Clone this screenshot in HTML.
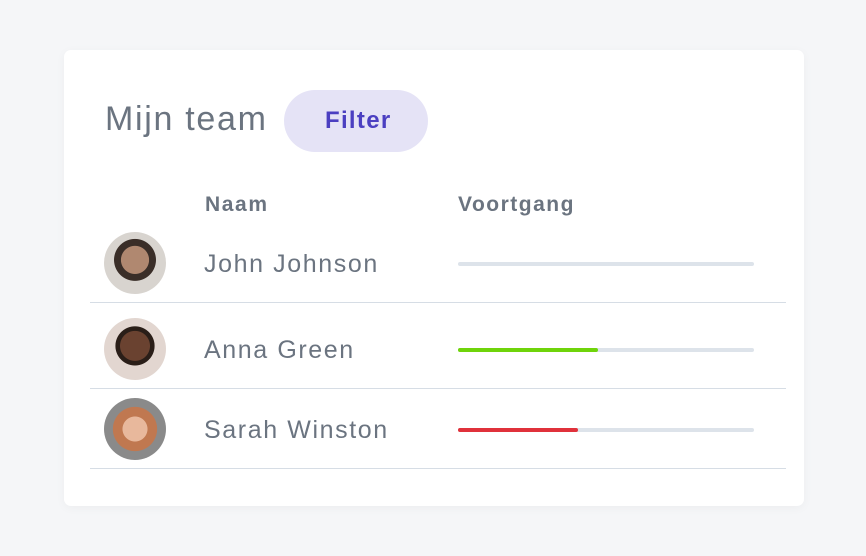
<!DOCTYPE html>
<html><head><meta charset="utf-8"><style>
body{margin:0;width:866px;height:556px;background:#f5f6f8;font-family:"Liberation Sans",sans-serif;position:relative;overflow:hidden}
.card{position:absolute;left:64px;top:50px;width:740px;height:456px;background:#fff;border-radius:7px;box-shadow:0 2px 10px rgba(0,0,0,0.04)}
.t{position:absolute;color:#6b7480;white-space:nowrap}
.av{position:absolute;left:104px;width:62px;height:62px;border-radius:50%}
.bar{position:absolute;left:458px;width:296px;height:4px;background:#dde3ea;border-radius:2px}
.line{position:absolute;left:90px;width:696px;height:1px;background:#d6dde5}
</style></head><body>
<div class="card"></div>
<div class="t" style="left:105px;top:100px;font-size:34px;letter-spacing:1.7px">Mijn team</div>
<div style="position:absolute;left:284px;top:90px;width:144px;height:62px;border-radius:31px;background:#e5e3f6"></div>
<div style="position:absolute;left:325px;top:90px;height:62px;color:#4b3fc1;font-weight:bold;font-size:24px;line-height:62px;letter-spacing:1.3px">Filter</div>
<div class="t" style="left:205px;top:193px;font-size:21px;font-weight:bold;letter-spacing:1.6px">Naam</div>
<div class="t" style="left:458px;top:193px;font-size:21px;font-weight:bold;letter-spacing:1.5px">Voortgang</div>
<div class="av" style="top:232px;background:radial-gradient(circle at 50% 45%,#b08870 0 30%,#3a2e28 31% 45%,#d8d4cf 46%)"></div>
<div class="av" style="top:318px;background:radial-gradient(circle at 50% 45%,#6a4230 0 32%,#2a1e18 33% 42%,#e2d6d0 43%)"></div>
<div class="av" style="top:398px;background:radial-gradient(circle at 50% 50%,#e8b89c 0 28%,#c07850 29% 50%,#8a8a8a 51%)"></div>
<div class="t" style="left:204px;top:250px;font-size:25px;letter-spacing:1.6px">John Johnson</div>
<div class="t" style="left:204px;top:336px;font-size:25px;letter-spacing:1.6px">Anna Green</div>
<div class="t" style="left:204px;top:416px;font-size:25px;letter-spacing:1.6px">Sarah Winston</div>
<div class="bar" style="top:262px"></div>
<div class="bar" style="top:348px"><div style="width:140px;height:4px;background:#6fd40a;border-radius:2px"></div></div>
<div class="bar" style="top:428px"><div style="width:120px;height:4px;background:#e0313b;border-radius:2px"></div></div>
<div class="line" style="top:302px"></div>
<div class="line" style="top:388px"></div>
<div class="line" style="top:468px"></div>
</body></html>
